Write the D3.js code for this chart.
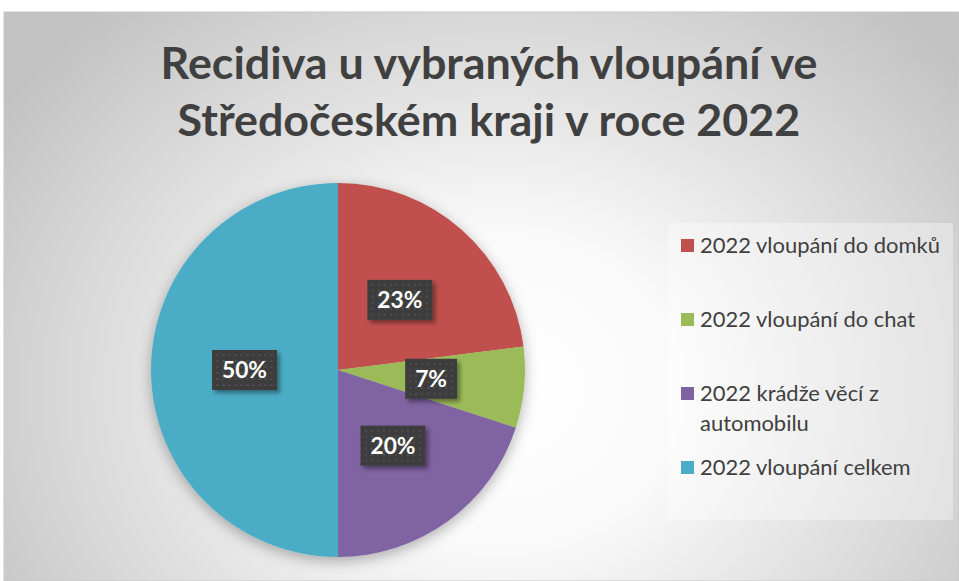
<!DOCTYPE html>
<html><head><meta charset="utf-8">
<script src="https://cdn.jsdelivr.net/npm/d3@7"></script>
<style>body{margin:0;background:#fff}svg{display:block}</style>
</head><body><svg id="c" width="959" height="581"></svg>
<script>
const categories = ["2022 vloupání do domků","2022 vloupání do chat","2022 krádže věcí z automobilu","2022 vloupání celkem"];
const legendLines = [["2022 vloupání do domků"],["2022 vloupání do chat"],["2022 krádže věcí z","automobilu"],["2022 vloupání celkem"]];
const values = [23, 7, 20, 50];
const colors = ["#C0504D","#9BBB59","#8064A2","#4BACC6"];
const titleLines = ["Recidiva u vybraných vloupání ve","Středočeském kraji v roce 2022"];

const svg = d3.select("#c");
const W = 959, H = 581;
const defs = svg.append("defs");

const grad = defs.append("radialGradient").attr("id","bg")
  .attr("gradientUnits","userSpaceOnUse")
  .attr("cx",500).attr("cy",390).attr("r",600)
  .attr("gradientTransform","translate(500,390) scale(1,0.85) translate(-500,-390)");
grad.append("stop").attr("offset",0).attr("stop-color","#ffffff");
grad.append("stop").attr("offset",0.3).attr("stop-color","#fafafa");
grad.append("stop").attr("offset",1).attr("stop-color","#c2c2c2");

const pat = defs.append("pattern").attr("id","dots").attr("patternUnits","userSpaceOnUse")
  .attr("width",6).attr("height",6);
pat.append("rect").attr("width",6).attr("height",6).attr("fill","#3e3e3e");
pat.append("rect").attr("x",2).attr("y",2).attr("width",2).attr("height",2).attr("fill","#4d4d4d");

const sh = defs.append("filter").attr("id","pieShadow").attr("x","-20%").attr("y","-20%").attr("width","140%").attr("height","140%");
sh.append("feDropShadow").attr("dx",0).attr("dy",4).attr("stdDeviation",7).attr("flood-color","#000").attr("flood-opacity",0.3);
const sh2 = defs.append("filter").attr("id","boxShadow").attr("x","-30%").attr("y","-30%").attr("width","160%").attr("height","160%");
sh2.append("feDropShadow").attr("dx",3).attr("dy",3).attr("stdDeviation",2).attr("flood-color","#000").attr("flood-opacity",0.4);

svg.append("rect").attr("x",4).attr("y",12).attr("width",W-4).attr("height",H-12)
  .attr("fill","url(#bg)").attr("stroke","#c8c8c8").attr("stroke-width",1);

// Title
const title = svg.append("g");
title.selectAll("text").data(titleLines).join("text")
  .attr("x",489).attr("y",(d,i)=>79+i*57)
  .attr("text-anchor","middle")
  .attr("font-family","Lato, 'Open Sans', sans-serif").attr("font-weight","bold")
  .attr("font-size",40).attr("fill","#404040").text(d=>d);
function fit(sel, node, target){
  const fs = +sel.attr("font-size");
  const w = node.getComputedTextLength();
  const nfs = fs*target/w;
  sel.attr("font-size",nfs);
  return nfs;
}
fit(title.selectAll("text"), title.select("text").node(), 657);

// Pie
const cx = 338, cy = 370, R = 187;
const pie = d3.pie().sort(null).value(d=>d);
const arcs = pie(values);
const arc = d3.arc().innerRadius(0).outerRadius(R);
const total = d3.sum(values);
const g = svg.append("g").attr("transform",`translate(${cx},${cy})`);
g.append("g").attr("filter","url(#pieShadow)")
  .selectAll("path").data(arcs).join("path")
  .attr("d",arc).attr("fill",(d,i)=>colors[i]);

// Labels
const fmt = d3.format(".0%");
const lab = g.selectAll("g.lab").data(arcs).join("g").attr("class","lab")
  .attr("transform",d=>`translate(${arc.centroid(d)})`);
const boxes = lab.append("rect").attr("fill","url(#dots)").attr("filter","url(#boxShadow)");
const ltxt = lab.append("text").attr("text-anchor","middle").attr("dy","0.36em")
  .attr("font-family","Lato, 'Open Sans', sans-serif").attr("font-weight","bold")
  .attr("font-size",24).attr("fill","#fff").text(d=>fmt(d.value/total));
fit(ltxt, ltxt.nodes()[0], 45);
ltxt.each(function(){
  const w = this.getComputedTextLength();
  d3.select(this.parentNode).select("rect")
    .attr("x",-w/2-10).attr("y",-20).attr("width",w+20).attr("height",40);
});

// Legend
svg.append("rect").attr("x",668).attr("y",223).attr("width",285).attr("height",297)
  .attr("fill","#ffffff").attr("fill-opacity",0.35);
const leg = svg.append("g");
const items = leg.selectAll("g").data(categories).join("g")
  .attr("transform",(d,i)=>`translate(681,${246 + i*74})`);
items.append("rect").attr("x",0).attr("y",-7).attr("width",13).attr("height",13)
  .attr("fill",(d,i)=>colors[i]);
const ltext = items.append("text").attr("x",19).attr("y",7)
  .attr("font-family","Lato, 'Open Sans', sans-serif").attr("font-size",19).attr("fill","#404040");
ltext.selectAll("tspan").data((d,i)=>legendLines[i]).join("tspan")
  .attr("x",19).attr("dy",(d,j)=>j===0?0:30).text(d=>d);
const first = ltext.nodes()[0];
const fs0 = +ltext.attr("font-size");
const w0 = first.getComputedTextLength();
ltext.attr("font-size", fs0*240/w0);
</script></body></html>
